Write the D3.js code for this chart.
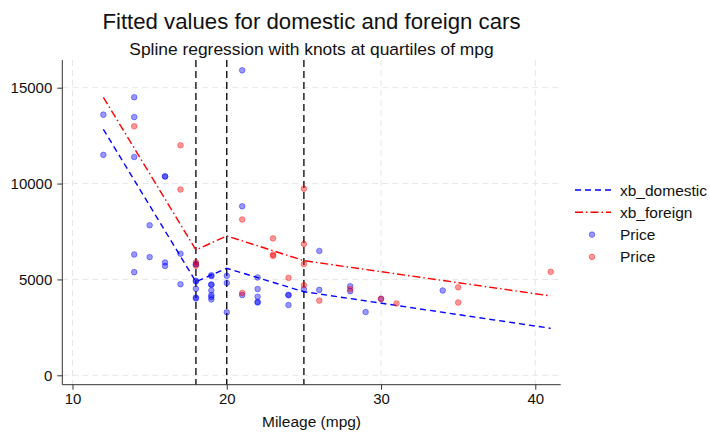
<!DOCTYPE html>
<html>
<head>
<meta charset="utf-8">
<script src="https://cdn.jsdelivr.net/npm/d3@7"></script>
<style>
  body { margin: 0; background: #fff; }
  svg { font-family: "Liberation Sans", Arial, sans-serif; }
</style>
</head>
<body>
<svg id="chart"></svg>
<script>
const width = 710;
const height = 432;

// auto data: domestic cars
const domMpg = [22, 17, 22, 20, 15, 18, 26, 20, 16, 19, 14, 14, 21, 29, 16, 22, 22, 24, 19, 30,
  18, 16, 17, 28, 21, 12, 12, 14, 22, 14, 15, 18, 14, 20, 21, 19, 19, 18, 19, 24,
  16, 28, 34, 25, 26, 18, 18, 18, 19, 19, 19, 24];
const domPrice = [4099, 4749, 3799, 4816, 7827, 5788, 4453, 5189, 10372, 4082, 11385, 14500, 15906, 3299, 5705, 4504, 5104, 3667, 3955, 3984,
  4010, 5886, 6342, 4389, 4187, 11497, 13594, 13466, 3829, 5379, 6165, 4516, 6303, 3291, 8814, 5172, 4733, 4890, 4181, 4195,
  10371, 4647, 4425, 4482, 6486, 4060, 5798, 4934, 5222, 4723, 4424, 4172];

// foreign cars
const forMpg = [17, 23, 25, 23, 35, 24, 21, 21, 25, 28, 30, 14, 26, 35, 18, 31, 18, 23, 41, 25, 25, 17];
const forPrice = [9690, 6295, 9735, 6229, 4589, 5079, 8129, 4296, 5799, 4499, 3995, 12990, 3895, 3798, 5899, 3748, 5719, 7140, 5397, 4697, 6850, 11995];

// fitted values (linear spline), read at the line vertices
const fitMpg = [12, 18, 20, 25, 41];
const xbDomestic = [12830, 4880, 5580, 4360, 2450];
const xbForeign = [14500, 6540, 7270, 5980, 4140];

const knots = [18, 20, 25];
const xTicks = [10, 20, 30, 40];
const yTicks = [0, 5000, 10000, 15000];

const svg = d3.select('#chart')
  .attr('width', width)
  .attr('height', height);

svg.append('rect')
  .attr('width', width)
  .attr('height', height)
  .attr('fill', '#fff');

const plotL = 62.3, plotR = 560.7, plotT = 60, plotB = 384.7;

const x = d3.scaleLinear()
  .domain([10, 40])
  .range([72.5, 535.3]);
const y = d3.scaleLinear()
  .domain([0, 15000])
  .range([375.3, 87.7]);

// grid
const grid = svg.append('g').attr('id', 'grid_g');
grid.selectAll('line.gy')
  .data(yTicks)
  .enter().append('line')
  .attr('class', 'gy')
  .attr('x1', plotL).attr('x2', plotR)
  .attr('y1', d => y(d)).attr('y2', d => y(d))
  .attr('stroke', '#e6e6e6')
  .attr('stroke-dasharray', '6,4');
grid.selectAll('line.gx')
  .data(xTicks)
  .enter().append('line')
  .attr('class', 'gx')
  .attr('x1', d => x(d)).attr('x2', d => x(d))
  .attr('y1', plotT).attr('y2', plotB)
  .attr('stroke', '#e6e6e6')
  .attr('stroke-dasharray', '6,4');

// knots
svg.append('g')
  .selectAll('line')
  .data(knots)
  .enter().append('line')
  .attr('x1', d => x(d)).attr('x2', d => x(d))
  .attr('y1', plotT).attr('y2', plotB)
  .attr('stroke', '#000')
  .attr('stroke-width', 1.3)
  .attr('stroke-dasharray', '7,4');

// fitted lines
const line = d3.line()
  .x(d => x(d[0]))
  .y(d => y(d[1]));

svg.append('path')
  .datum(d3.zip(fitMpg, xbDomestic))
  .attr('d', line)
  .attr('fill', 'none')
  .attr('stroke', 'blue')
  .attr('stroke-width', 1.4)
  .attr('stroke-dasharray', '6,4');

svg.append('path')
  .datum(d3.zip(fitMpg, xbForeign))
  .attr('d', line)
  .attr('fill', 'none')
  .attr('stroke', 'red')
  .attr('stroke-width', 1.4)
  .attr('stroke-dasharray', '8,3,1.5,3');

// points
function drawPoints(mpg, price, color) {
  svg.append('g')
    .selectAll('circle')
    .data(d3.zip(mpg, price))
    .enter().append('circle')
    .attr('cx', d => x(d[0]))
    .attr('cy', d => y(d[1]))
    .attr('r', 2.8)
    .attr('fill', color)
    .attr('fill-opacity', 0.4)
    .attr('stroke', color)
    .attr('stroke-opacity', 0.4)
    .attr('stroke-width', 1);
}
drawPoints(domMpg, domPrice, 'blue');
drawPoints(forMpg, forPrice, 'red');

// axes
const xAxis = svg.append('g')
  .attr('transform', `translate(0,${plotB})`)
  .call(d3.axisBottom(x).tickValues(xTicks).tickSize(5).tickPadding(4));
xAxis.select('.domain').attr('d', `M${plotL},0H${plotR}`);

const yAxis = svg.append('g')
  .attr('transform', `translate(${plotL},0)`)
  .call(d3.axisLeft(y).tickValues(yTicks).tickSize(5).tickPadding(5).tickFormat(d3.format('d')));
yAxis.select('.domain').attr('d', `M0,${plotT}V${plotB}`);

svg.selectAll('.tick text')
  .attr('font-size', 15)
  .attr('fill', '#111');
svg.selectAll('.domain, .tick line')
  .attr('stroke', '#333');

// titles
const cx = (plotL + plotR) / 2;
svg.append('text')
  .attr('x', cx).attr('y', 28.5)
  .attr('text-anchor', 'middle')
  .attr('font-size', 22.2)
  .attr('fill', '#111')
  .text('Fitted values for domestic and foreign cars');
svg.append('text')
  .attr('x', cx).attr('y', 55)
  .attr('text-anchor', 'middle')
  .attr('font-size', 17.4)
  .attr('fill', '#111')
  .text('Spline regression with knots at quartiles of mpg');
svg.append('text')
  .attr('x', cx).attr('y', 427)
  .attr('text-anchor', 'middle')
  .attr('font-size', 15.5)
  .attr('fill', '#111')
  .text('Mileage (mpg)');

// legend
const legend = [
  { label: 'xb_domestic', type: 'line', color: 'blue', dash: '6,4' },
  { label: 'xb_foreign', type: 'line', color: 'red', dash: '8,3,1.5,3' },
  { label: 'Price', type: 'point', color: 'blue' },
  { label: 'Price', type: 'point', color: 'red' }
];
const lg = svg.append('g').attr('id', 'legend_g');
legend.forEach(function (d, i) {
  const ly = 190 + i * 22.3;
  if (d.type === 'line') {
    lg.append('line')
      .attr('x1', 575).attr('x2', 611)
      .attr('y1', ly).attr('y2', ly)
      .attr('stroke', d.color)
      .attr('stroke-width', 1.4)
      .attr('stroke-dasharray', d.dash);
  } else {
    lg.append('circle')
      .attr('cx', 592).attr('cy', ly)
      .attr('r', 2.8)
      .attr('fill', d.color).attr('fill-opacity', 0.4)
      .attr('stroke', d.color).attr('stroke-opacity', 0.4);
  }
  lg.append('text')
    .attr('x', 620).attr('y', ly + 5.5)
    .attr('font-size', 15.5)
    .attr('fill', '#111')
    .text(d.label);
});
</script>
</body>
</html>
